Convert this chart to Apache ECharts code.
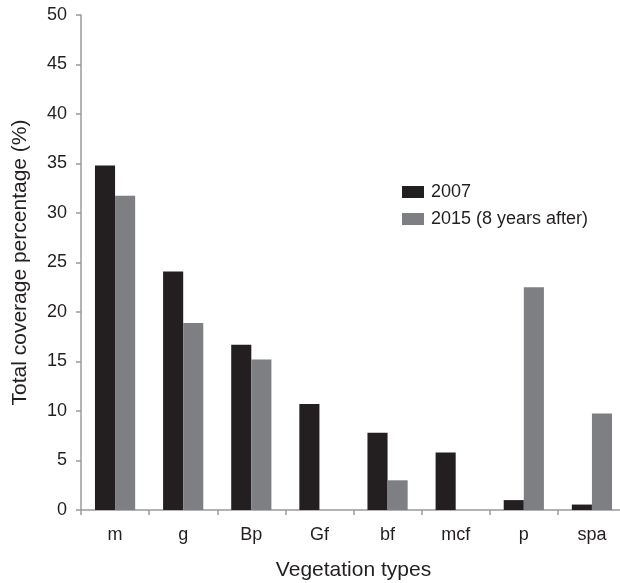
<!DOCTYPE html>
<html>
<head>
<meta charset="utf-8">
<script src="https://cdn.jsdelivr.net/npm/echarts@6/dist/echarts.min.js"></script>
<style>html,body{margin:0;padding:0;background:#fff}#c{width:620px;height:583px}</style>
</head>
<body>
<div id="c"></div>
<script>
const categories = ['m', 'g', 'Bp', 'Gf', 'bf', 'mcf', 'p', 'spa'];
const series2007 = [34.8, 24.1, 16.7, 10.7, 7.8, 5.8, 1.0, 0.55];
const series2015 = [31.75, 18.9, 15.2, 0, 3.0, 0, 22.5, 9.75];
const seriesNames = ['2007', '2015 (8 years after)'];
const yTicks = { min: 0, max: 50, interval: 5 };

const font = 'Liberation Sans, Arial, sans-serif';
const chart = echarts.init(document.getElementById('c'), null, { renderer: 'canvas' });
chart.setOption({
  animation: false,
  backgroundColor: '#fff',
  textStyle: { fontFamily: font },
  grid: { left: 81, right: -6, top: 15, bottom: 73, containLabel: false, outerBoundsMode: 'none' },
  legend: {
    orient: 'vertical', left: 397, top: 178,
    itemWidth: 22, itemHeight: 12, itemGap: 9, icon: 'rect',
    textStyle: { fontSize: 18, color: '#231f20', fontFamily: font, padding: [0, 0, 0, 2] },
    data: seriesNames
  },
  xAxis: {
    type: 'category', data: categories,
    name: 'Vegetation types', nameLocation: 'middle', nameGap: 50,
    nameTextStyle: { fontSize: 21, color: '#231f20' },
    axisLine: { lineStyle: { color: '#9a9a9c', width: 1.5 } },
    axisTick: { show: true, length: 5, lineStyle: { color: '#9a9a9c', width: 1.5 } },
    axisLabel: { fontSize: 18, color: '#231f20', margin: 16 }
  },
  yAxis: {
    type: 'value', min: yTicks.min, max: yTicks.max, interval: yTicks.interval,
    name: 'Total coverage percentage (%)', nameLocation: 'middle', nameGap: 50,
    nameTextStyle: { fontSize: 21, color: '#231f20' },
    axisLine: { show: true, lineStyle: { color: '#9a9a9c', width: 1.5 } },
    axisTick: { show: true, length: 5, lineStyle: { color: '#9a9a9c', width: 1.5 } },
    axisLabel: { fontSize: 18, color: '#231f20', margin: 14 },
    splitLine: { show: false }
  },
  series: [
    { name: seriesNames[0], type: 'bar', data: series2007, barGap: '0%', barCategoryGap: '41%',
      itemStyle: { color: '#231f20' } },
    { name: seriesNames[1], type: 'bar', data: series2015, barGap: '0%', barCategoryGap: '41%',
      itemStyle: { color: '#7e7f82' } }
  ]
});
</script>
</body>
</html>
